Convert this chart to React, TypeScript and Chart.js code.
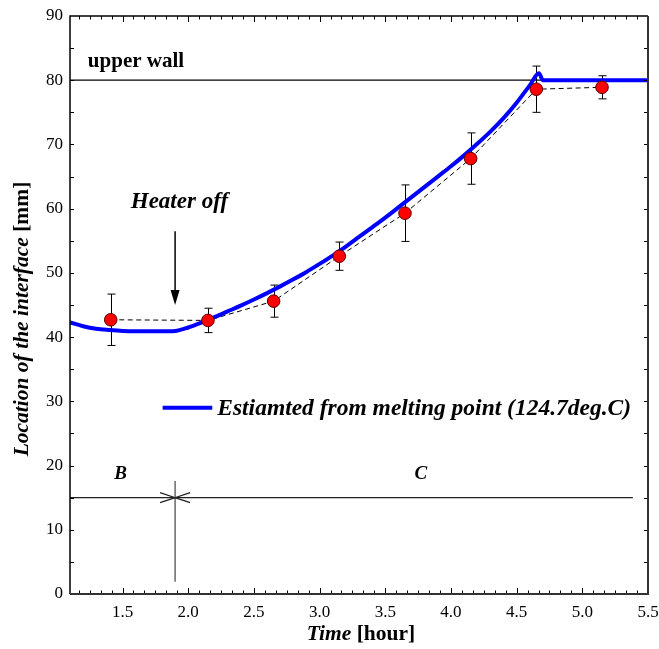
import React, { useEffect, useRef } from 'react';
import { Chart, registerables } from 'chart.js';

Chart.register(...registerables);

// ---- measured interface location (red circles, with error bars) ----
const pointTimes = [1.41, 2.15, 2.65, 3.15, 3.65, 4.15, 4.65, 5.15];
const pointValues = [42.7, 42.6, 45.6, 52.6, 59.3, 67.8, 78.6, 78.9];
const pointErrors = [4.0, 1.9, 2.5, 2.2, 4.4, 4.0, 3.6, 1.8];

// ---- estimated from melting point (blue curve) ----
const curveTimes = [1.1, 1.2, 1.3, 1.4, 1.5, 1.6, 1.7, 1.8, 1.9, 2.0, 2.1, 2.2, 2.3, 2.4, 2.5, 2.6, 2.7, 2.8, 2.9, 3.0, 3.1, 3.2, 3.3, 3.4, 3.5, 3.6, 3.7, 3.8, 3.9, 4.0, 4.1, 4.2, 4.3, 4.4, 4.5, 4.6, 4.67, 4.7, 5.0, 5.5];
const curveValues = [42.3, 41.7, 41.3, 41.1, 40.95, 40.9, 40.9, 40.9, 40.95, 41.5, 42.25, 43.1, 44.0, 44.9, 45.85, 46.85, 47.9, 49.0, 50.15, 51.4, 52.7, 54.1, 55.6, 57.1, 58.6, 60.2, 61.8, 63.4, 65.0, 66.6, 68.3, 70.1, 72.0, 74.1, 76.5, 79.2, 81.1, 80.0, 80.0, 80.0];

// ---- axes ----
const xTickValues = [1.5, 2.0, 2.5, 3.0, 3.5, 4.0, 4.5, 5.0, 5.5];
const yTickValues = [0, 10, 20, 30, 40, 50, 60, 70, 80, 90];
const upperWall = 80;
const heaterOffTime = 1.9;
const legendLabel = 'Estiamted from melting point (124.7deg.C)';

const SERIF = '"Liberation Serif", "Times New Roman", Times, serif';

const decorPlugin = {
  id: 'decor',
  beforeDatasetsDraw(chart: any) {
    const { ctx, chartArea: a, scales } = chart;
    const x = scales.x;
    const y = scales.y;
    ctx.save();
    // upper wall line
    ctx.strokeStyle = '#000';
    ctx.lineWidth = 1.2;
    ctx.beginPath();
    ctx.moveTo(a.left, y.getPixelForValue(upperWall));
    ctx.lineTo(a.right, y.getPixelForValue(upperWall));
    ctx.stroke();

    // B / C region line
    const y15 = y.getPixelForValue(15);
    const xv = x.getPixelForValue(heaterOffTime);
    ctx.strokeStyle = '#222';
    ctx.lineWidth = 1.2;
    ctx.beginPath();
    ctx.moveTo(a.left, y15);
    ctx.lineTo(x.getPixelForValue(5.385), y15);
    ctx.stroke();
    ctx.strokeStyle = '#444';
    ctx.beginPath();
    ctx.moveTo(xv, y.getPixelForValue(17.6));
    ctx.lineTo(xv, y.getPixelForValue(1.9));
    ctx.stroke();
    // open chevrons pointing to the vertical line
    ctx.strokeStyle = '#222';
    ctx.beginPath();
    ctx.moveTo(xv - 15, y15 - 5);
    ctx.lineTo(xv, y15);
    ctx.lineTo(xv - 15, y15 + 5);
    ctx.moveTo(xv + 15, y15 - 5);
    ctx.lineTo(xv, y15);
    ctx.lineTo(xv + 15, y15 + 5);
    ctx.stroke();

    // error bars
    ctx.strokeStyle = '#000';
    ctx.lineWidth = 1;
    pointTimes.forEach((t, i) => {
      const px = Math.round(x.getPixelForValue(t)) + 0.5;
      const top = y.getPixelForValue(pointValues[i] + pointErrors[i]);
      const bot = y.getPixelForValue(pointValues[i] - pointErrors[i]);
      ctx.beginPath();
      ctx.moveTo(px, top);
      ctx.lineTo(px, bot);
      ctx.moveTo(px - 4, top);
      ctx.lineTo(px + 4, top);
      ctx.moveTo(px - 4, bot);
      ctx.lineTo(px + 4, bot);
      ctx.stroke();
    });
    ctx.restore();
  },
  afterDatasetsDraw(chart: any) {
    const { ctx, chartArea: a, scales } = chart;
    const x = scales.x;
    const y = scales.y;
    ctx.save();

    // ticks (inward)
    ctx.strokeStyle = '#000';
    ctx.lineWidth = 1;
    ctx.beginPath();
    for (let m = 14; m <= 66; m++) {
      const v = m / 12;
      const px = Math.round(x.getPixelForValue(v)) + 0.5;
      const len = m % 6 === 0 ? 6 : 3.5;
      ctx.moveTo(px, a.bottom);
      ctx.lineTo(px, a.bottom - len);
      ctx.moveTo(px, a.top);
      ctx.lineTo(px, a.top + len);
    }
    for (let v = 5; v < 90; v += 5) {
      const py = Math.round(y.getPixelForValue(v)) + 0.5;
      ctx.moveTo(a.left, py);
      ctx.lineTo(a.left + 4, py);
      ctx.moveTo(a.right, py);
      ctx.lineTo(a.right - 4, py);
    }
    ctx.stroke();

    // frame
    ctx.lineWidth = 1.5;
    ctx.strokeStyle = '#000';
    ctx.beginPath();
    ctx.moveTo(a.left, a.bottom);
    ctx.lineTo(a.left, a.top);
    ctx.lineTo(a.right, a.top);
    ctx.stroke();
    ctx.lineWidth = 2;
    ctx.strokeStyle = '#333';
    ctx.beginPath();
    ctx.moveTo(a.left, a.bottom);
    ctx.lineTo(a.right, a.bottom);
    ctx.lineTo(a.right, a.top);
    ctx.stroke();

    ctx.fillStyle = '#000';
    ctx.textAlign = 'left';
    ctx.textBaseline = 'alphabetic';

    // upper wall label
    ctx.font = `bold 21px ${SERIF}`;
    ctx.fillText('upper wall', x.getPixelForValue(1.236), y.getPixelForValue(82.1));

    // Heater off label + arrow
    ctx.font = `italic bold 23px ${SERIF}`;
    ctx.textAlign = 'center';
    ctx.fillText('Heater off', x.getPixelForValue(1.933), y.getPixelForValue(60.06));
    const ax = x.getPixelForValue(heaterOffTime);
    const aTop = y.getPixelForValue(56.5);
    const aTip = y.getPixelForValue(45.0);
    ctx.lineWidth = 1.5;
    ctx.strokeStyle = '#000';
    ctx.beginPath();
    ctx.moveTo(ax, aTop);
    ctx.lineTo(ax, aTip - 10);
    ctx.stroke();
    ctx.beginPath();
    ctx.moveTo(ax - 4.5, aTip - 15);
    ctx.lineTo(ax + 4.5, aTip - 15);
    ctx.lineTo(ax, aTip);
    ctx.closePath();
    ctx.fill();

    // B / C labels
    ctx.font = `italic bold 19px ${SERIF}`;
    ctx.fillText('B', x.getPixelForValue(1.486), y.getPixelForValue(17.86));
    ctx.fillText('C', x.getPixelForValue(3.77), y.getPixelForValue(17.9));

    // legend
    const ly = y.getPixelForValue(29.0);
    ctx.strokeStyle = '#0000ff';
    ctx.lineWidth = 4;
    ctx.beginPath();
    ctx.moveTo(x.getPixelForValue(1.805), ly);
    ctx.lineTo(x.getPixelForValue(2.183), ly);
    ctx.stroke();
    ctx.font = `italic bold 23.5px ${SERIF}`;
    ctx.textAlign = 'left';
    ctx.fillText(legendLabel, x.getPixelForValue(2.221), y.getPixelForValue(27.8));

    // axis titles
    const drawMixed = (parts: [string, string][], cx: number, cy: number, rotate: boolean) => {
      ctx.save();
      ctx.translate(cx, cy);
      if (rotate) ctx.rotate(-Math.PI / 2);
      let total = 0;
      const widths = parts.map(([txt, font]) => {
        ctx.font = font;
        const w = ctx.measureText(txt).width;
        total += w;
        return w;
      });
      let pos = -total / 2;
      ctx.textAlign = 'left';
      parts.forEach(([txt, font], i) => {
        ctx.font = font;
        ctx.fillText(txt, pos, 0);
        pos += widths[i];
      });
      ctx.restore();
    };
    drawMixed(
      [['Time', `italic bold 21.5px ${SERIF}`], [' [hour]', `bold 21.5px ${SERIF}`]],
      (a.left + a.right) / 2 + 2,
      640,
      false
    );
    drawMixed(
      [['Location of the interface', `italic bold 21.5px ${SERIF}`], [' [mm]', `bold 21.5px ${SERIF}`]],
      28,
      (a.top + a.bottom) / 2 + 14,
      true
    );
    ctx.restore();
  },
};

export default function App() {
  const ref = useRef<HTMLCanvasElement>(null);
  useEffect(() => {
    document.body.style.margin = '0';
    const canvas = ref.current!;
    const measured = pointTimes.map((t, i) => ({ x: t, y: pointValues[i] }));
    const curve = curveTimes.map((t, i) => ({ x: t, y: curveValues[i] }));
    const chart = new Chart(canvas, {
      type: 'scatter',
      data: {
        datasets: [
          {
            label: 'measured',
            data: measured,
            showLine: false,
            pointRadius: 6.3,
            pointBackgroundColor: '#ff0000',
            pointBorderColor: '#5a0000',
            pointBorderWidth: 1,
            order: 0,
          } as any,
          {
            label: legendLabel,
            data: curve,
            showLine: true,
            borderColor: '#0000ff',
            borderWidth: 4,
            pointRadius: 0,
            cubicInterpolationMode: 'monotone',
            order: 1,
          } as any,
          {
            label: 'measured (dashed)',
            data: measured,
            showLine: true,
            borderColor: '#000',
            borderWidth: 1,
            borderDash: [5, 3.5],
            pointRadius: 0,
            order: 2,
          } as any,
        ],
      },
      options: {
        responsive: false,
        animation: false,
        devicePixelRatio: 1,
        events: [],
        layout: { padding: { top: 16, right: 11, left: 0, bottom: 0 } },
        plugins: { legend: { display: false }, tooltip: { enabled: false } },
        scales: {
          x: {
            type: 'linear',
            min: 1.1,
            max: 5.5,
            grid: { display: false, drawTicks: false },
            border: { display: false },
            afterBuildTicks: (s: any) => {
              s.ticks = xTickValues.map((v) => ({ value: v }));
            },
            afterFit: (s: any) => {
              s.height = 55;
              s.paddingLeft = 0;
              s.paddingRight = 0;
            },
            ticks: {
              autoSkip: false,
              maxRotation: 0,
              padding: 8,
              color: '#000',
              font: { family: SERIF, size: 17 },
              callback: (v: any) => Number(v).toFixed(1),
            },
          },
          y: {
            type: 'linear',
            min: 0,
            max: 90,
            grid: { display: false, drawTicks: false },
            border: { display: false },
            afterBuildTicks: (s: any) => {
              s.ticks = yTickValues.map((v) => ({ value: v }));
            },
            afterFit: (s: any) => {
              s.width = 70;
              s.paddingTop = 0;
              s.paddingBottom = 0;
            },
            ticks: {
              autoSkip: false,
              padding: 7,
              color: '#000',
              font: { family: SERIF, size: 17 },
              callback: (v: any) => String(v),
            },
          },
        },
      } as any,
      plugins: [decorPlugin],
    });
    return () => chart.destroy();
  }, []);
  return (
    <div style={{ width: 659, height: 649 }}>
      <canvas ref={ref} width={659} height={649} style={{ display: 'block' }} />
    </div>
  );
}
